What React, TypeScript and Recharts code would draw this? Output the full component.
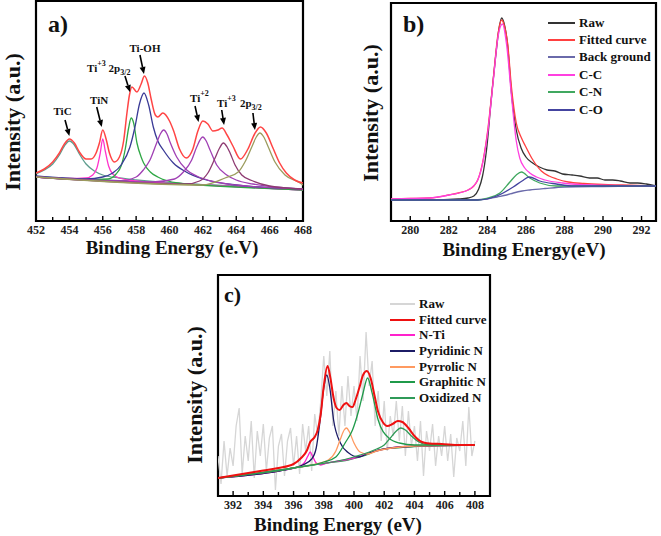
import React from "react"
import { LineChart, Line, XAxis, YAxis, ReferenceArea, ReferenceLine, ReferenceDot, Legend } from "recharts"

const SERIF = "'Liberation Serif', 'Times New Roman', serif"

// ---------- a) Ti 2p ----------
const A_TICKS = [452, 453, 454, 455, 456, 457, 458, 459, 460, 461, 462, 463, 464, 465, 466, 467, 468]
const A_FIT_E = [452, 452.5, 453, 453.4, 453.7, 454, 454.3, 454.6, 455, 455.3, 455.6, 455.8, 456, 456.2, 456.4, 456.7, 457, 457.25, 457.45, 457.6, 457.75, 458.05, 458.3, 458.5, 458.7, 458.9, 459.15, 459.3, 459.6, 460, 460.25, 460.6, 461, 461.4, 461.7, 462, 462.3, 462.6, 462.9, 463.15, 463.45, 463.8, 464.25, 464.7, 465.1, 465.45, 465.8, 466.2, 466.6, 467, 467.5, 468]
const A_FIT_I = [48, 52, 59, 68, 77, 82, 78, 69, 62, 62, 68, 78, 91, 82, 68, 59, 64, 80, 108, 126, 134, 129, 137, 145, 138, 122, 106, 104, 108, 100, 90, 72, 63, 72, 90, 100, 97, 90, 91, 93, 86, 75, 62, 72, 87, 94, 88, 73, 58, 48, 41, 38]
const A_BG_E = [452, 456, 460, 464, 468]
const A_BG_I = [44, 41, 38, 34.5, 31]
const A_TIC_E = [452, 452.5, 453, 453.4, 453.7, 454, 454.3, 454.6, 455, 455.5, 456, 457, 458, 461, 464, 468]
const A_TIC_I = [47, 51, 57, 66, 75, 80, 76, 67, 57, 50, 46, 43, 41, 37, 35, 31.5]
const A_TIN_E = [452, 454, 455, 455.4, 455.65, 455.85, 456, 456.15, 456.35, 456.6, 457, 458, 462, 468]
const A_TIN_I = [44, 42.5, 43, 46, 53, 68, 82, 70, 55, 47, 43, 40, 36, 31]
const A_TI3A_E = [452, 455, 456.3, 456.8, 457.1, 457.35, 457.55, 457.7, 457.85, 458.05, 458.3, 458.45, 458.85, 459.3, 460.5, 464, 468]
const A_TI3A_I = [44, 41.5, 42, 47, 55, 72, 93, 103, 98, 78, 64, 58, 49, 44, 38, 34, 31]
const A_TIOH_E = [452, 455, 456, 456.6, 457.1, 457.63, 457.93, 458.2, 458.47, 458.75, 459.03, 459.3, 459.63, 460.23, 461, 462, 464, 468]
const A_TIOH_I = [45, 42, 44, 48, 56, 74, 94, 117, 128, 116, 94, 80, 71, 58, 49, 42, 36, 32]
const A_P460_E = [452, 457, 458, 458.43, 458.83, 459.23, 459.45, 459.65, 459.85, 460.03, 460.43, 461.03, 461.63, 462.5, 464, 468]
const A_P460_I = [44, 40, 44, 51, 61, 78, 87, 91, 87, 79, 64, 51, 45, 40, 36, 32]
const A_TI2_E = [452, 459, 460.3, 460.83, 461.33, 461.63, 461.99, 462.2, 462.43, 462.83, 463.43, 464, 465, 468]
const A_TI2_I = [44, 39, 42, 49, 61, 74, 84, 80, 71, 56, 46, 41, 37, 32]
const A_TI3B_E = [452, 461, 461.8, 462.3, 462.73, 463, 463.23, 463.45, 463.63, 463.93, 464.33, 465, 466, 468]
const A_TI3B_I = [44, 37, 40, 48, 63, 73, 78, 74, 68, 56, 46, 40, 35, 32]
const A_2P_E = [452, 462, 463.33, 464.12, 464.52, 464.93, 465.2, 465.42, 465.65, 465.92, 466.32, 466.92, 467.72, 468]
const A_2P_I = [44, 36, 43, 49, 59, 74, 84, 88, 84, 74, 59, 46, 39, 36]

// ---------- b) C 1s ----------
const B_TICKS = [280, 281, 282, 283, 284, 285, 286, 287, 288, 289, 290, 291, 292]
const B_RAW_E = [279, 281, 282.5, 283, 283.3, 283.55, 283.75, 283.95, 284.2, 284.45, 284.6, 284.74, 284.9, 285.05, 285.25, 285.5, 285.75, 286, 286.35, 286.7, 287.1, 287.5, 287.9, 288.4, 288.8, 289.3, 289.7, 290.1, 290.5, 290.9, 291.4, 291.8, 292.25, 292.75]
const B_RAW_I = [21, 21, 22, 23, 25, 32, 45, 70, 121, 168, 192, 203, 195, 176, 128, 91, 73, 64, 58, 54, 51, 50, 47, 46, 45, 43, 43, 41, 41, 40, 38, 38, 37, 35]
const B_FIT_E = [279, 280, 281, 282, 282.5, 283, 283.3, 283.5, 283.78, 284.04, 284.3, 284.56, 284.74, 284.9, 285.05, 285.25, 285.5, 285.77, 286, 286.3, 286.5, 286.8, 287.2, 287.6, 288.2, 289, 290, 291, 292.75]
const B_FIT_I = [22, 22.5, 23, 26, 28, 31, 35, 41, 61, 94, 141, 188, 201, 194, 178, 134, 98, 83, 74, 63, 57, 50, 45, 42, 39, 37.5, 36.5, 36, 35]
const B_BG_E = [279, 283, 284, 284.5, 285, 285.35, 285.8, 286.2, 287, 288, 290, 292.75]
const B_BG_I = [21, 21, 22, 24, 26, 28, 30, 31, 32.5, 34, 34.5, 35]
const B_CC_E = [279, 281, 282, 283, 283.5, 283.78, 284.04, 284.3, 284.56, 284.78, 285, 285.25, 285.5, 285.68, 285.94, 286.2, 286.55, 287, 287.9, 289.5, 292.75]
const B_CC_I = [22, 23, 26, 31, 41, 60, 92, 139, 185, 197, 176, 125, 80, 63, 53, 48, 44, 41, 38, 36, 35]
const B_CN_E = [279, 283.5, 284, 284.65, 285.17, 285.5, 285.77, 286.2, 286.72, 287.58, 288.5, 292.75]
const B_CN_I = [21, 21, 23, 28, 39, 46, 49, 43, 38, 35, 35, 35]
const B_CO_E = [279, 283.5, 284.48, 285.34, 285.8, 286.17, 286.72, 287.58, 288.5, 292.75]
const B_CO_I = [21, 21, 25, 34, 40, 44, 40, 37, 35, 35]

// ---------- c) N 1s ----------
const C_TICKS = [391, 392, 393, 394, 395, 396, 397, 398, 399, 400, 401, 402, 403, 404, 405, 406, 407, 408]
const C_RAW_E = [391, 391.2, 391.4, 391.6, 391.8, 392, 392.2, 392.4, 392.6, 392.8, 393, 393.2, 393.4, 393.6, 393.8, 394, 394.2, 394.4, 394.6, 394.8, 395, 395.2, 395.4, 395.6, 395.8, 396, 396.2, 396.4, 396.6, 396.8, 397, 397.2, 397.4, 397.6, 397.8, 398, 398.2, 398.4, 398.6, 398.8, 399, 399.2, 399.4, 399.6, 399.8, 400, 400.2, 400.4, 400.6, 400.8, 401, 401.2, 401.4, 401.6, 401.8, 402, 402.2, 402.4, 402.6, 402.8, 403, 403.2, 403.4, 403.6, 403.8, 404, 404.2, 404.4, 404.6, 404.8, 405, 405.2, 405.4, 405.6, 405.8, 406, 406.2, 406.4, 406.6, 406.8, 407, 407.2, 407.4, 407.6, 407.8, 408]
const C_RAW_I = [40, 12, 55, 20, 48, 30, 70, 88, 22, 60, 35, 75, 18, 65, 40, 72, 25, 58, 70, 6, 50, 62, 20, 55, 68, 30, 60, 22, 72, 45, 70, 25, 82, 60, 95, 140, 100, 145, 70, 105, 60, 110, 70, 120, 80, 110, 75, 140, 95, 164, 110, 135, 70, 105, 55, 95, 45, 80, 60, 95, 55, 90, 40, 85, 50, 70, 35, 75, 20, 65, 45, 72, 30, 60, 40, 70, 35, 62, 19, 58, 45, 75, 30, 89, 40, 55]
const C_FIT_E = [391, 392, 393, 394, 395, 396, 396.5, 396.9, 397.1, 397.4, 397.6, 397.8, 398, 398.25, 398.45, 398.65, 398.85, 399.05, 399.3, 399.5, 399.7, 399.9, 400.1, 400.35, 400.6, 400.85, 401.1, 401.35, 401.6, 401.9, 402.2, 402.55, 402.9, 403.2, 403.6, 404, 404.5, 405, 405.8, 407, 408]
const C_FIT_I = [18, 20.5, 23, 25.5, 28, 32, 38, 46, 54, 59, 66, 82, 110, 130, 117, 98, 88, 86, 91, 93, 90, 89, 96, 108, 121, 125, 118, 101, 84, 74, 70, 72, 75, 74, 68, 60, 54, 52.5, 52, 51, 51]
const C_BG_E = [391, 393, 395, 396, 397, 398.2, 399.6, 400.4, 401, 401.6, 402.2, 402.7, 404, 404.9, 408]
const C_BG_I = [18, 21, 25, 28, 30.5, 33, 36, 39, 42, 46, 47.5, 48, 49.5, 50, 51]
const C_NTI_E = [391, 395, 396.3, 396.7, 396.95, 397.1, 397.25, 397.5, 397.8, 398.2, 399, 400, 401, 402, 404, 408]
const C_NTI_I = [18, 25, 29, 33, 40, 44, 40, 33, 31, 33, 35, 38, 43, 47, 50, 51]
const C_PYD_E = [391, 395, 396, 396.6, 397.2, 397.5, 397.76, 398, 398.2, 398.4, 398.65, 399.1, 399.65, 400.3, 401, 402, 403, 408]
const C_PYD_I = [18, 25, 28, 31, 37, 48, 76, 108, 121, 108, 76, 53, 43, 39, 43, 47, 49, 51]
const C_PYR_E = [391, 396, 397.5, 398.3, 398.8, 399.1, 399.35, 399.5, 399.7, 400, 400.4, 400.9, 401.5, 402.5, 404, 408]
const C_PYR_I = [18, 28, 32, 36, 45, 57, 66, 68, 64, 53, 44, 42, 45, 48, 50, 51]
const C_GRA_E = [391, 396, 398, 398.8, 399.45, 399.9, 400.3, 400.6, 400.9, 401.2, 401.6, 402.3, 403, 404, 408]
const C_GRA_I = [18, 28, 34, 39, 54, 66, 85, 103, 118, 103, 76, 58, 53, 51, 51]
const C_OXI_E = [391, 396, 400, 401.5, 402, 402.4, 402.8, 403.1, 403.4, 403.8, 404.3, 404.8, 405.5, 408]
const C_OXI_I = [18, 28, 39, 47, 51, 58, 65, 68, 66, 60, 54, 51.5, 51, 51]

const pts = (e: number[], v: number[]) => e.map((x, i) => ({ e: x, v: v[i] }))

type Series = { name: string; e: number[]; v: number[]; color: string; w?: number; linear?: boolean }

const seriesA: Series[] = [
  { name: "Back ground", e: A_BG_E, v: A_BG_I, color: "#4a4a8c" },
  { name: "TiC", e: A_TIC_E, v: A_TIC_I, color: "#5e9d8e" },
  { name: "TiN", e: A_TIN_E, v: A_TIN_I, color: "#ff33cc" },
  { name: "Ti+3 2p3/2", e: A_TI3A_E, v: A_TI3A_I, color: "#2fa745" },
  { name: "Ti-OH", e: A_TIOH_E, v: A_TIOH_I, color: "#3a3a96" },
  { name: "459.7", e: A_P460_E, v: A_P460_I, color: "#a040b4" },
  { name: "Ti+2", e: A_TI2_E, v: A_TI2_I, color: "#a040b4" },
  { name: "Ti+3", e: A_TI3B_E, v: A_TI3B_I, color: "#8e3b72" },
  { name: "2p3/2", e: A_2P_E, v: A_2P_I, color: "#9c9c5e" },
  { name: "Fitted curve", e: A_FIT_E, v: A_FIT_I, color: "#ff4545", w: 1.5 },
]

const seriesB: Series[] = [
  { name: "Raw", e: B_RAW_E, v: B_RAW_I, color: "#333333" },
  { name: "Fitted curve", e: B_FIT_E, v: B_FIT_I, color: "#ff4040" },
  { name: "Back ground", e: B_BG_E, v: B_BG_I, color: "#6a6aaa" },
  { name: "C-C", e: B_CC_E, v: B_CC_I, color: "#ff40e0" },
  { name: "C-N", e: B_CN_E, v: B_CN_I, color: "#40a860" },
  { name: "C-O", e: B_CO_E, v: B_CO_I, color: "#4444a0" },
]

const seriesC: Series[] = [
  { name: "Raw", e: C_RAW_E, v: C_RAW_I, color: "#d6d6d6", linear: true },
  { name: "Back ground", e: C_BG_E, v: C_BG_I, color: "#2a9a50" },
  { name: "N-Ti", e: C_NTI_E, v: C_NTI_I, color: "#ff22cc" },
  { name: "Pyridinic N", e: C_PYD_E, v: C_PYD_I, color: "#1c1c66" },
  { name: "Pyrrolic N", e: C_PYR_E, v: C_PYR_I, color: "#ff9a60" },
  { name: "Graphitic N", e: C_GRA_E, v: C_GRA_I, color: "#1f9a4a" },
  { name: "Oxidized N", e: C_OXI_E, v: C_OXI_I, color: "#2f9a58" },
  { name: "Fitted curve", e: C_FIT_E, v: C_FIT_I, color: "#ee1111", w: 2 },
]
const C_LEGEND = ["Raw", "Fitted curve", "N-Ti", "Pyridinic N", "Pyrrolic N", "Graphitic N", "Oxidized N"]
const B_LEGEND = ["Raw", "Fitted curve", "Back ground", "C-C", "C-N", "C-O"]

// annotation labels for panel a (energy, intensity)
type Part = { t: string; s?: "sup" | "sub" }
const A_LABELS: { e: number; v: number; anchor: string; parts: Part[] }[] = [
  { e: 453.59, v: 106, anchor: "middle", parts: [{ t: "TiC" }] },
  { e: 455.78, v: 117, anchor: "middle", parts: [{ t: "TiN" }] },
  { e: 455.06, v: 149, anchor: "start", parts: [{ t: "Ti" }, { t: "+3", s: "sup" }, { t: " 2p" }, { t: "3/2", s: "sub" }] },
  { e: 458.53, v: 169, anchor: "middle", parts: [{ t: "Ti-OH" }] },
  { e: 461.23, v: 119, anchor: "start", parts: [{ t: "Ti" }, { t: "+2", s: "sup" }] },
  { e: 462.85, v: 114, anchor: "start", parts: [{ t: "Ti" }, { t: "+3", s: "sup" }] },
  { e: 464.22, v: 114, anchor: "start", parts: [{ t: "2p" }, { t: "3/2", s: "sub" }] },
]
const A_ARROWS = [
  [453.74, 101, 454.0, 85],
  [455.64, 114, 455.94, 94],
  [457.33, 145, 457.63, 129],
  [458.23, 166, 458.47, 147],
  [461.53, 115, 461.74, 99],
  [463.13, 111, 463.27, 96],
  [465.0, 108, 465.12, 91],
]

const EnergyTick = (props: any) => {
  const { x, y, payload } = props
  const major = payload.value % 2 === 0
  return (
    <g>
      <line x1={x} y1={y} x2={x} y2={y - (major ? 5 : 4)} stroke="#000" strokeWidth={1.4} />
      {major && (
        <text x={x} y={y + 13} textAnchor="middle" fontFamily={SERIF} fontWeight="bold" fontSize={12} fill="#222">
          {payload.value}
        </text>
      )}
    </g>
  )
}

const Arrow = (p: any) => {
  const { x1, y1, x2, y2 } = p
  const a = Math.atan2(y2 - y1, x2 - x1)
  const L = 7
  const W = 3
  const bx = x2 - L * Math.cos(a)
  const by = y2 - L * Math.sin(a)
  const nx = -Math.sin(a) * W
  const ny = Math.cos(a) * W
  return (
    <g>
      <line x1={x1} y1={y1} x2={bx} y2={by} stroke="#000" strokeWidth={1.6} />
      <polygon points={`${x2},${y2} ${bx + nx},${by + ny} ${bx - nx},${by - ny}`} fill="#000" />
    </g>
  )
}

const AnnoText = ({ cx, cy, parts, anchor }: any) => {
  let cur = 0
  return (
    <text x={cx} y={cy} textAnchor={anchor} fontFamily={SERIF} fontWeight="bold" fontSize={11} fill="#111">
      {parts.map((p: Part, i: number) => {
        const target = p.s === "sup" ? -6 : p.s === "sub" ? 3 : 0
        const dy = target - cur
        cur = target
        return (
          <tspan key={i} dy={dy} fontSize={p.s ? 8 : 11}>
            {p.t}
          </tspan>
        )
      })}
    </text>
  )
}

const makeLegend = (names: string[], series: Series[], rowH: number, lineW: number) => () => (
  <div>
    {names.map((n) => {
      const s = series.find((d) => d.name === n)!
      return (
        <div key={n} style={{ display: "flex", alignItems: "center", height: rowH }}>
          <span style={{ display: "inline-block", width: lineW, borderTop: `${s.w ?? 2}px solid ${s.color}`, marginRight: 4 }} />
          <span style={{ fontFamily: SERIF, fontWeight: "bold", fontSize: 13, color: "#111", whiteSpace: "nowrap" }}>{n}</span>
        </div>
      )
    })}
  </div>
)

const renderLines = (list: Series[]) =>
  list.map((s) => (
    <Line
      key={s.name + s.color}
      data={pts(s.e, s.v)}
      dataKey="v"
      name={s.name}
      type={s.linear ? "linear" : "monotone"}
      stroke={s.color}
      strokeWidth={s.w ?? 1.3}
      dot={false}
      activeDot={false}
      legendType="line"
      isAnimationActive={false}
    />
  ))

const title: React.CSSProperties = { position: "absolute", fontFamily: SERIF, fontWeight: "bold", color: "#111", whiteSpace: "nowrap", lineHeight: 1, transform: "translate(-50%, -50%)" }

const YTitle = ({ x, y }: { x: number; y: number }) => (
  <div style={{ ...title, left: x, top: y, fontSize: 22, transform: "translate(-50%, -50%) rotate(-90deg)" }}>Intensity (a.u.)</div>
)

export default function App() {
  return (
    <div style={{ position: "absolute", left: 0, top: 0, width: 661, height: 536, background: "#fff", overflow: "hidden" }}>
      {/* a) */}
      <div style={{ position: "absolute", left: 0, top: 0 }}>
        <LineChart width={330} height={260} margin={{ top: 1, right: 27, bottom: 0, left: 36 }}>
          <XAxis type="number" dataKey="e" domain={[452, 468]} ticks={A_TICKS} interval={0} tickSize={0} tickMargin={0} axisLine={false} tickLine={false} tick={EnergyTick} height={39} allowDataOverflow />
          <YAxis type="number" domain={[0, 220]} hide allowDataOverflow />
          {renderLines(seriesA)}
          {A_ARROWS.map((a, i) => (
            <ReferenceLine key={"ar" + i} segment={[{ x: a[0], y: a[1] }, { x: a[2], y: a[3] }]} shape={Arrow} />
          ))}
          {A_LABELS.map((l, i) => (
            <ReferenceDot key={"lb" + i} x={l.e} y={l.v} r={1} shape={(p: any) => <AnnoText cx={p.cx} cy={p.cy} parts={l.parts} anchor={l.anchor} />} />
          ))}
          <ReferenceArea x1={452} x2={468} y1={0} y2={220} fill="none" stroke="#000" strokeWidth={2.2} />
        </LineChart>
      </div>
      <div style={{ ...title, left: 48, top: 12, fontSize: 24, transform: "none" }}>a)</div>
      <YTitle x={13} y={122} />
      <div style={{ ...title, left: 172, top: 247, fontSize: 19 }}>Binding Energy (e.V)</div>

      {/* b) */}
      <div style={{ position: "absolute", left: 330, top: 0 }}>
        <LineChart width={331} height={260} margin={{ top: 3, right: 5, bottom: 0, left: 61 }}>
          <XAxis type="number" dataKey="e" domain={[279, 292.75]} ticks={B_TICKS} interval={0} tickSize={0} tickMargin={0} axisLine={false} tickLine={false} tick={EnergyTick} height={39} allowDataOverflow />
          <YAxis type="number" domain={[0, 218]} hide allowDataOverflow />
          {renderLines(seriesB)}
          <ReferenceArea x1={279} x2={292.75} y1={0} y2={218} fill="none" stroke="#000" strokeWidth={2.2} />
          <Legend layout="vertical" align="center" verticalAlign="middle" wrapperStyle={{ left: 218, top: 14, width: "auto" }} content={makeLegend(B_LEGEND, seriesB, 17.4, 27)} />
        </LineChart>
      </div>
      <div style={{ ...title, left: 403, top: 12, fontSize: 24, transform: "none" }}>b)</div>
      <YTitle x={371} y={113} />
      <div style={{ ...title, left: 524, top: 249, fontSize: 19 }}>Binding Energy(eV)</div>

      {/* c) */}
      <div style={{ position: "absolute", left: 160, top: 260 }}>
        <LineChart width={340} height={276} margin={{ top: 15, right: 10, bottom: 0, left: 58 }}>
          <XAxis type="number" dataKey="e" domain={[391, 409]} ticks={C_TICKS} interval={0} tickSize={0} tickMargin={0} axisLine={false} tickLine={false} tick={EnergyTick} height={40} allowDataOverflow />
          <YAxis type="number" domain={[0, 221]} hide allowDataOverflow />
          {renderLines(seriesC)}
          <ReferenceArea x1={391} x2={409} y1={0} y2={221} fill="none" stroke="#000" strokeWidth={2.2} />
          <Legend layout="vertical" align="center" verticalAlign="middle" wrapperStyle={{ left: 230, top: 36, width: "auto" }} content={makeLegend(C_LEGEND, seriesC, 15.7, 25)} />
        </LineChart>
      </div>
      <div style={{ ...title, left: 224, top: 284, fontSize: 22, transform: "none" }}>c)</div>
      <YTitle x={195} y={395} />
      <div style={{ ...title, left: 338, top: 524, fontSize: 19 }}>Binding Energy (eV)</div>
    </div>
  )
}
